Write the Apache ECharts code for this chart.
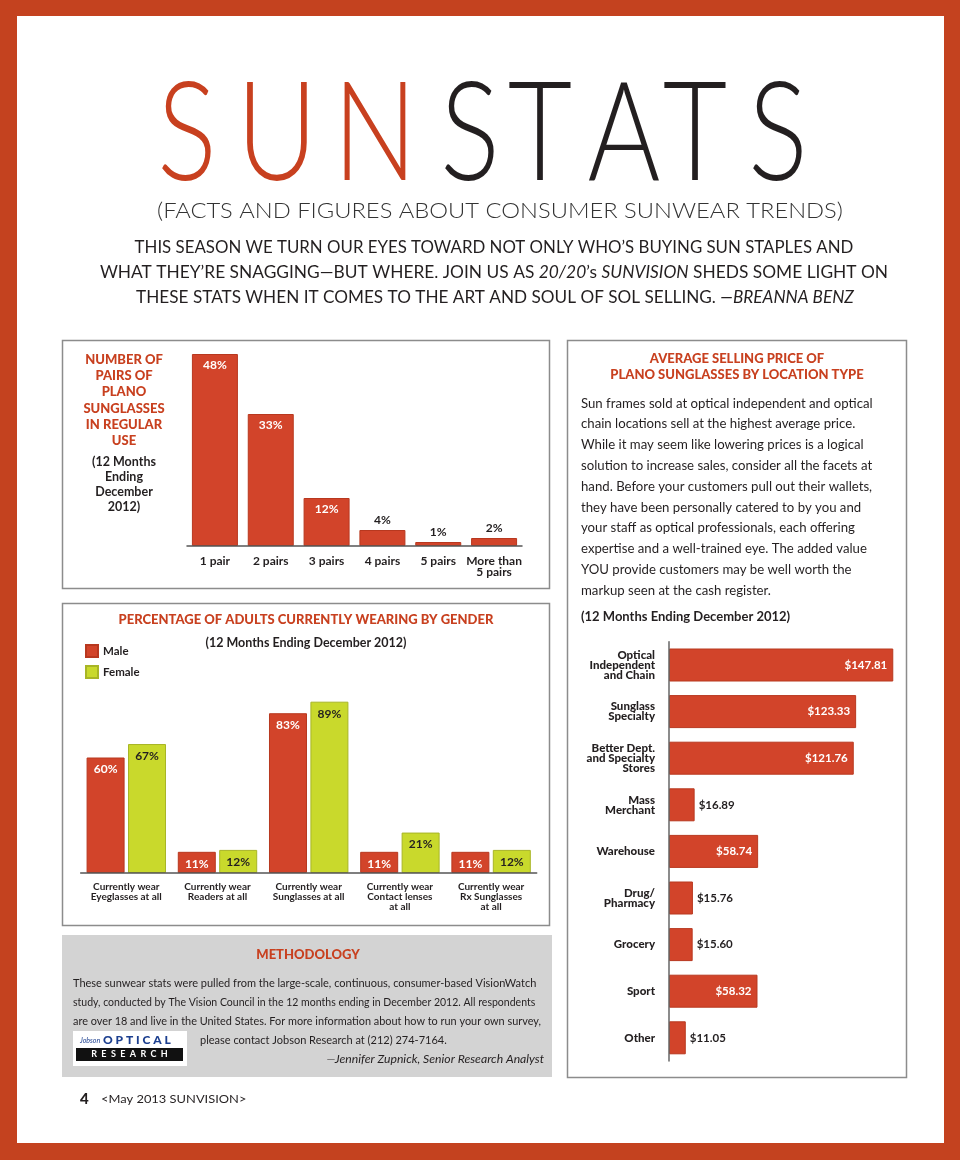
<!DOCTYPE html>
<html><head><meta charset="utf-8">
<script src="https://cdn.jsdelivr.net/npm/echarts@6/dist/echarts.min.js"></script>
<style>html,body{margin:0;padding:0;background:#fff}#c{width:960px;height:1160px}</style>
</head><body><div id="c"></div>
<script>
// ---- DATA ----
const pairsCategories = ['1 pair', '2 pairs', '3 pairs', '4 pairs', '5 pairs', 'More than\n5 pairs'];
const pairsValues = [48, 33, 12, 4, 1, 2];

const genderCategories = ['Currently wear\nEyeglasses at all', 'Currently wear\nReaders at all', 'Currently wear\nSunglasses at all', 'Currently wear\nContact lenses\nat all', 'Currently wear\nRx Sunglasses\nat all'];
const maleValues = [60, 11, 83, 11, 11];
const femaleValues = [67, 12, 89, 21, 12];

const locationCategories = ['Optical\nIndependent\nand Chain', 'Sunglass\nSpecialty', 'Better Dept.\nand Specialty\nStores', 'Mass\nMerchant', 'Warehouse', 'Drug/\nPharmacy', 'Grocery', 'Sport', 'Other'];
const locationPrices = [147.81, 123.33, 121.76, 16.89, 58.74, 15.76, 15.60, 58.32, 11.05];

// ---- STYLE ----
const RED = '#d2442a', RED_EDGE = '#b8381f', GREEN = '#c9d92c', GREEN_EDGE = '#a8b526';
const TITLE_RED = '#c8401f', INK = '#231f20', FONT = 'Lato';

function T(x, y, text, o) {
  o = o || {};
  return {
    type: 'text', x: x, y: y, scaleX: o.sx || 1, z: 10,
    style: {
      text: text, fill: o.c || INK,
      font: (o.it ? 'italic ' : '') + (o.w || 400) + ' ' + (o.s || 12) + 'px ' + (o.f || FONT),
      align: o.a || 'left', verticalAlign: o.va || 'middle',
      lineHeight: o.lh, rich: o.rich
    }
  };
}
function R(x, y, w, h, fill, stroke, lw, z) {
  return { type: 'rect', z: z == null ? -10 : z, shape: { x: x, y: y, width: w, height: h },
    style: { fill: fill || 'none', stroke: stroke || null, lineWidth: lw || 0 } };
}

const graphics = [];
graphics.push(R(17, 16, 927, 1127, '#ffffff'));
// boxes
graphics.push(R(62.5, 340.5, 487, 248, 'none', '#8c8c8c', 1.5, -5));
graphics.push(R(62.5, 603.5, 487, 322, 'none', '#8c8c8c', 1.5, -5));
graphics.push(R(567.5, 340.5, 339, 737, 'none', '#8c8c8c', 1.5, -5));
graphics.push(R(62, 935, 490, 142, '#d3d3d3', null, 0, -4));

// Title letters
const titleLetters = ['S', 'U', 'N', 'S', 'T', 'A', 'T', 'S'];
const titleCenters = [187, 277, 375, 470, 540, 624, 695, 778];
titleLetters.forEach(function (ch, i) {
  graphics.push(T(titleCenters[i], 135, ch, { s: 139, w: 300, a: 'center', sx: 0.8, c: i < 3 ? TITLE_RED : INK }));
});
graphics.push(T(500, 211, '(FACTS AND FIGURES ABOUT CONSUMER SUNWEAR TRENDS)', { s: 21, w: 300, a: 'center', sx: 1.13, c: '#333' }));

const introRich = {
  n: { font: '400 17px ' + FONT, fill: INK },
  i: { font: 'italic 400 17px ' + FONT, fill: INK }
};
graphics.push(T(494, 248, "{n|THIS SEASON WE TURN OUR EYES TOWARD NOT ONLY WHO\u2019S BUYING SUN STAPLES AND}", { a: 'center', sx: 0.99, rich: introRich }));
graphics.push(T(494, 273, "{n|WHAT THEY\u2019RE SNAGGING\u2014BUT WHERE. JOIN US AS }{i|20/20}{n|\u2019s }{i|SUNVISION}{n| SHEDS SOME LIGHT ON}", { a: 'center', sx: 1.02, rich: introRich }));
graphics.push(T(495, 298, "{n|THESE STATS WHEN IT COMES TO THE ART AND SOUL OF SOL SELLING. }{i|\u2014BREANNA BENZ}", { a: 'center', sx: 1.01, rich: introRich }));

// Box 1 texts
graphics.push(T(124, 352, 'NUMBER OF\nPAIRS OF\nPLANO\nSUNGLASSES\nIN REGULAR\nUSE', { s: 13, w: 900, a: 'center', va: 'top', lh: 16.1, c: TITLE_RED }));
graphics.push(T(124, 455, '(12 Months\nEnding\nDecember\n2012)', { s: 12.5, w: 700, a: 'center', va: 'top', lh: 14.8 }));

// Box 2 texts
graphics.push(T(306, 620, 'PERCENTAGE OF ADULTS CURRENTLY WEARING BY GENDER', { s: 13, w: 900, a: 'center', c: TITLE_RED }));
graphics.push(T(306, 643, '(12 Months Ending December 2012)', { s: 12.5, w: 700, a: 'center' }));

// Box 3 texts
graphics.push(T(737, 351, 'AVERAGE SELLING PRICE OF\nPLANO SUNGLASSES BY LOCATION TYPE', { s: 13, w: 900, a: 'center', va: 'top', lh: 16, c: TITLE_RED }));
graphics.push(T(581, 393, 'Sun frames sold at optical independent and optical\nchain locations sell at the highest average price.\nWhile it may seem like lowering prices is a logical\nsolution to increase sales, consider all the facets at\nhand. Before your customers pull out their wallets,\nthey have been personally catered to by you and\nyour staff as optical professionals, each offering\nexpertise and a well-trained eye. The added value\nYOU provide customers may be well worth the\nmarkup seen at the cash register.', { s: 13.2, w: 400, va: 'top', lh: 20.8 }));
graphics.push(T(581, 617, '(12 Months Ending December 2012)', { s: 13, w: 700 }));

// Methodology
graphics.push(T(308, 955, 'METHODOLOGY', { s: 13, w: 900, a: 'center', c: TITLE_RED }));
graphics.push(T(73, 983, 'These sunwear stats were pulled from the large-scale, continuous, consumer-based VisionWatch', { s: 11, w: 400, sx: 1.0 }));
graphics.push(T(73, 1002, 'study, conducted by The Vision Council in the 12 months ending in December 2012. All respondents', { s: 11, w: 400, sx: 0.956 }));
graphics.push(T(73, 1021, 'are over 18 and live in the United States. For more information about how to run your own survey,', { s: 11, w: 400, sx: 0.99 }));
graphics.push(T(200, 1040, 'please contact Jobson Research at (212) 274-7164.', { s: 11, w: 400 }));
graphics.push(T(544, 1059, '\u2014Jennifer Zupnick, Senior Research Analyst', { s: 12.2, w: 400, it: true, a: 'right' }));
// logo
graphics.push(R(73, 1031, 114, 35, '#ffffff', null, 0, 5));
graphics.push(R(76, 1048, 107, 13, '#111111', null, 0, 6));
graphics.push(T(80, 1041, 'Jobson', { s: 7, w: 400, it: true, c: '#1c3f8f' }));
graphics.push(T(103, 1040, 'O P T I C A L', { s: 12, w: 900, c: '#1c3f8f' }));
graphics.push(T(129.5, 1054.5, 'R  E  S  E  A  R  C  H', { s: 9, w: 700, c: '#ffffff', a: 'center' }));

// Footer
graphics.push(T(80, 1099, '4', { s: 15, w: 900 }));
graphics.push(T(101, 1099, '<May 2013 SUNVISION>', { s: 11.5, w: 400, sx: 1.12 }));

// ---- CHART ----
const axisLabelBase = { color: INK, fontFamily: FONT, interval: 0 };

const chart = echarts.init(document.getElementById('c'), null, { renderer: 'canvas' });
chart.setOption({
  backgroundColor: '#c4421f',
  animation: false,
  textStyle: { fontFamily: FONT },
  graphic: { elements: graphics },
  legend: {
    data: ['Male', 'Female'], orient: 'vertical', left: 85, top: 644, padding: 0,
    itemWidth: 12, itemHeight: 12, itemGap: 7, icon: 'rect',
    textStyle: { fontFamily: FONT, fontWeight: 700, fontSize: 11.5, color: INK }
  },
  grid: [
    { left: 187, top: 346, width: 335, height: 200 },
    { left: 80.7, top: 680.5, width: 456, height: 192.5 },
    { left: 669, top: 641.7, width: 227.6, height: 419.4 }
  ],
  xAxis: [
    { type: 'category', gridIndex: 0, data: pairsCategories, z: 3,
      axisLine: { lineStyle: { color: '#555', width: 1.5 } }, axisTick: { show: false },
      axisLabel: Object.assign({ fontSize: 12, fontWeight: 700, lineHeight: 11, margin: 10 }, axisLabelBase) },
    { type: 'category', gridIndex: 1, data: genderCategories, z: 3,
      axisLine: { lineStyle: { color: '#555', width: 1.5 } }, axisTick: { show: false },
      axisLabel: Object.assign({ fontSize: 10, fontWeight: 700, lineHeight: 10, margin: 9 }, axisLabelBase) },
    { type: 'value', gridIndex: 2, min: 0, max: 150, show: false }
  ],
  yAxis: [
    { type: 'value', gridIndex: 0, min: 0, max: 50, show: false },
    { type: 'value', gridIndex: 1, min: 0, max: 100, show: false },
    { type: 'category', gridIndex: 2, data: locationCategories, inverse: true, z: 3,
      axisLine: { lineStyle: { color: '#666', width: 1.5 } }, axisTick: { show: false },
      axisLabel: Object.assign({ fontSize: 11.5, fontWeight: 900, lineHeight: 10, margin: 14 }, axisLabelBase) }
  ],
  series: [
    { type: 'bar', xAxisIndex: 0, yAxisIndex: 0, barWidth: 46,
      itemStyle: { color: RED, borderColor: RED_EDGE, borderWidth: 1 },
      label: { show: true, fontFamily: FONT, fontWeight: 700, fontSize: 12, formatter: '{c}%' },
      data: pairsValues.map(function (v) {
        return { value: v, label: v >= 10 ? { position: 'insideTop', distance: 5, color: '#fff' } : { position: 'top', distance: 4, color: INK } };
      }) },
    { name: 'Male', type: 'bar', xAxisIndex: 1, yAxisIndex: 1, barWidth: 38, barGap: '9%',
      itemStyle: { color: RED, borderColor: RED_EDGE, borderWidth: 1 },
      label: { show: true, position: 'insideTop', distance: 6, color: '#fff', fontFamily: FONT, fontWeight: 700, fontSize: 12, formatter: '{c}%' },
      data: maleValues },
    { name: 'Female', type: 'bar', xAxisIndex: 1, yAxisIndex: 1, barWidth: 38, barGap: '9%',
      itemStyle: { color: GREEN, borderColor: GREEN_EDGE, borderWidth: 1 },
      label: { show: true, position: 'insideTop', distance: 6, color: INK, fontFamily: FONT, fontWeight: 700, fontSize: 12, formatter: '{c}%' },
      data: femaleValues },
    { type: 'bar', xAxisIndex: 2, yAxisIndex: 2, barWidth: 33,
      itemStyle: { color: RED, borderColor: RED_EDGE, borderWidth: 1 },
      label: { show: true, fontFamily: FONT, fontWeight: 700, fontSize: 11.5,
        formatter: function (p) { return '$' + p.value.toFixed(2); } },
      data: locationPrices.map(function (v) {
        return { value: v, label: v >= 50 ? { position: 'insideRight', distance: 6, color: '#fff' } : { position: 'right', distance: 4, color: INK } };
      }) }
  ]
});
</script>
</body></html>
